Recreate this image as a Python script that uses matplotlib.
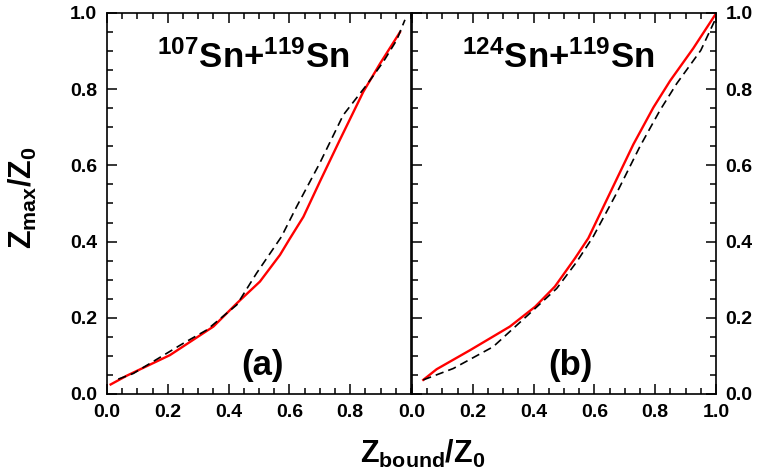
import numpy as np
import matplotlib
matplotlib.use("Agg")
import matplotlib.pyplot as plt
from matplotlib.ticker import MultipleLocator

plt.rcParams['font.family'] = ['Liberation Sans', 'DejaVu Sans']
plt.rcParams['font.weight'] = 'bold'
plt.rcParams['mathtext.fontset'] = 'custom'
plt.rcParams['mathtext.rm'] = 'Liberation Sans:bold'
plt.rcParams['mathtext.bf'] = 'Liberation Sans:bold'
plt.rcParams['mathtext.default'] = 'bf'

# panel (a): 107Sn+119Sn
a_red_x = [0.012, 0.065, 0.207, 0.35, 0.427, 0.503, 0.569, 0.60, 0.646, 0.70, 0.766, 0.843, 0.898, 0.964]
a_red_y = [0.025, 0.048, 0.102, 0.177, 0.238, 0.295, 0.365, 0.406, 0.465, 0.557, 0.667, 0.793, 0.867, 0.95]
a_dash_x = [0.037, 0.087, 0.251, 0.328, 0.427, 0.492, 0.574, 0.624, 0.70, 0.777, 0.854, 0.909, 0.953, 0.98]
a_dash_y = [0.039, 0.054, 0.133, 0.168, 0.234, 0.317, 0.413, 0.492, 0.606, 0.732, 0.811, 0.872, 0.929, 0.982]

# panel (b): 124Sn+119Sn
b_red_x = [0.037, 0.081, 0.191, 0.322, 0.405, 0.47, 0.536, 0.58, 0.651, 0.728, 0.794, 0.849, 0.925, 0.997]
b_red_y = [0.037, 0.065, 0.115, 0.177, 0.229, 0.282, 0.356, 0.409, 0.527, 0.655, 0.752, 0.822, 0.907, 0.995]
b_dash_x = [0.037, 0.136, 0.267, 0.388, 0.476, 0.542, 0.596, 0.673, 0.75, 0.816, 0.871, 0.95, 0.997]
b_dash_y = [0.037, 0.067, 0.124, 0.212, 0.277, 0.347, 0.413, 0.527, 0.65, 0.745, 0.815, 0.902, 0.982]

titles = [r'$^{107}$Sn+$^{119}$Sn', r'$^{124}$Sn+$^{119}$Sn']
tags = ['(a)', '(b)']

fig = plt.figure(figsize=(7.61, 4.71), dpi=100)
ax1 = fig.add_axes([0.1406, 0.1635, 0.3995, 0.809])
ax2 = fig.add_axes([0.5414, 0.1635, 0.3995, 0.809])

ax1.plot(a_red_x, a_red_y, color='red', lw=1.7)
ax1.plot(a_dash_x, a_dash_y, color='black', lw=1.2, ls=(0, (5, 3)))
ax2.plot(b_red_x, b_red_y, color='red', lw=1.7)
ax2.plot(b_dash_x, b_dash_y, color='black', lw=1.2, ls=(0, (5, 3)))

for i, ax in enumerate([ax1, ax2]):
    ax.set_xlim(0, 1)
    ax.set_ylim(0, 1)
    ax.xaxis.set_major_locator(MultipleLocator(0.2))
    ax.xaxis.set_minor_locator(MultipleLocator(0.05))
    ax.yaxis.set_major_locator(MultipleLocator(0.2))
    ax.yaxis.set_minor_locator(MultipleLocator(0.05))
    ax.tick_params(which='both', direction='in', top=True, labelsize=14, width=1.1, pad=7)
    ax.tick_params(which='major', length=7)
    ax.tick_params(which='minor', length=4)
    for sp in ax.spines.values():
        sp.set_linewidth(1.2)
    for lab in ax.get_xticklabels() + ax.get_yticklabels():
        lab.set_fontweight('bold')
    ax.text(0.48, 0.855, titles[i], transform=ax.transAxes, ha='center',
            va='baseline', fontsize=25, fontweight='bold')
    ax.text(0.51 if i == 0 else 0.52, 0.05, tags[i], transform=ax.transAxes,
            ha='center', va='baseline', fontsize=25, fontweight='bold')

ax1.tick_params(which='both', right=False)
ax1.set_xticks([0.0, 0.2, 0.4, 0.6, 0.8])
ax1.set_xticklabels(['0.0', '0.2', '0.4', '0.6', '0.8'])
ax2.tick_params(which='both', left=True, right=True, labelleft=False, labelright=True)

fig.text(0.03, 0.58, r'Z$_{max}$/Z$_0$', rotation=90, ha='center', va='center',
         fontsize=22, fontweight='bold')
fig.text(0.555, 0.017, r'Z$_{bound}$/Z$_0$', ha='center', va='baseline',
         fontsize=22, fontweight='bold')

fig.savefig('out.png', dpi=100)
